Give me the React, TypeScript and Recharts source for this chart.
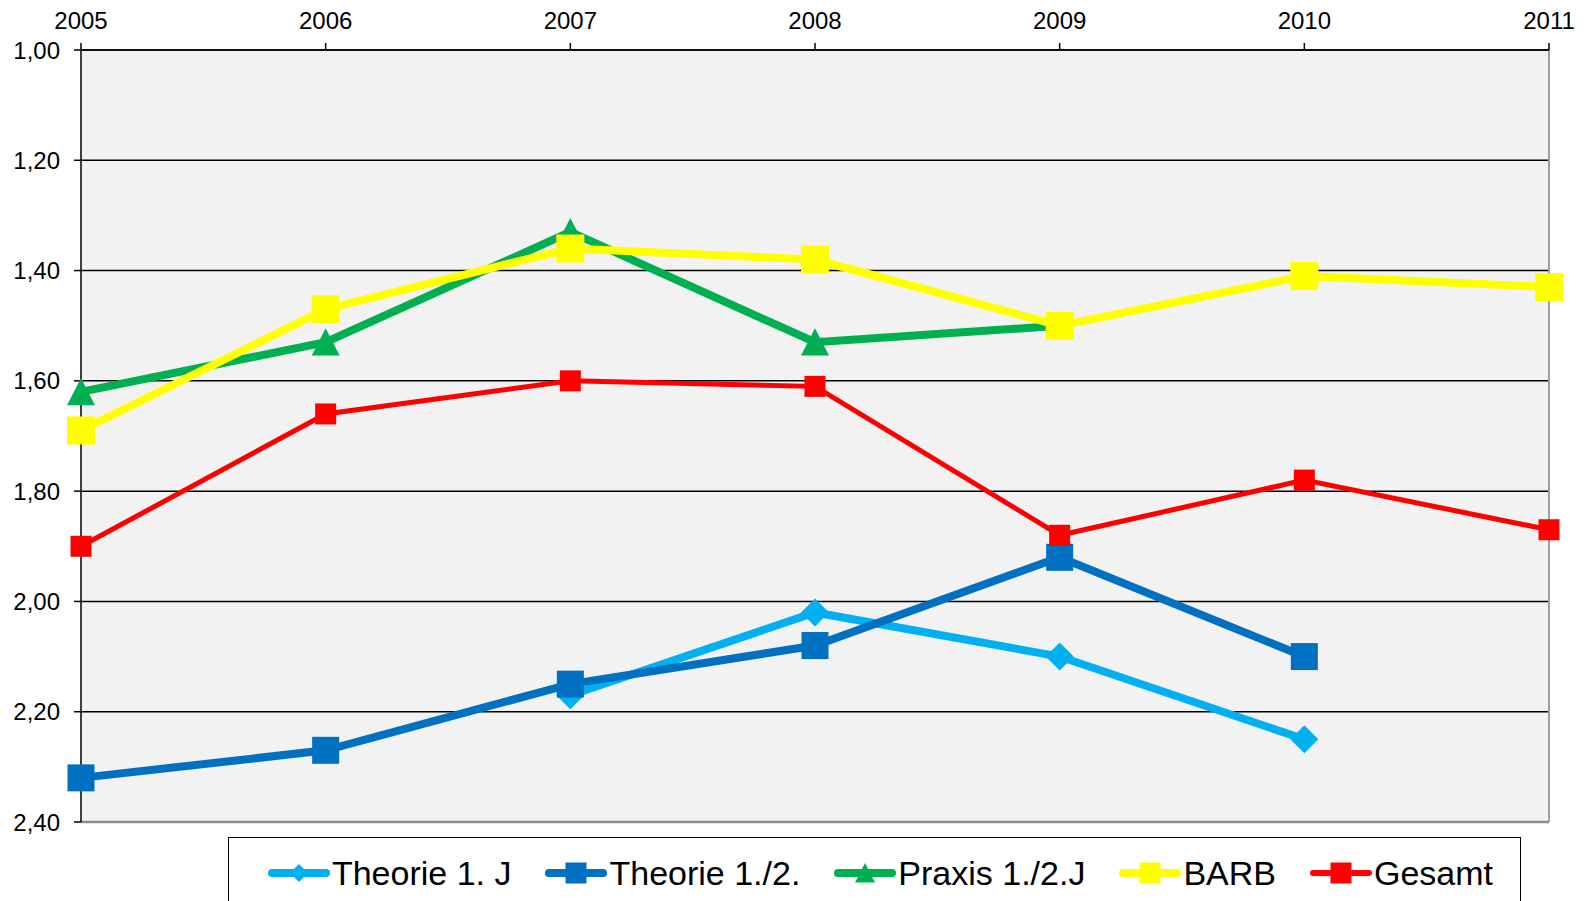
import React from 'react';
import { LineChart, Line, XAxis, YAxis, CartesianGrid, ReferenceLine } from 'recharts';

const years = ['2005', '2006', '2007', '2008', '2009', '2010', '2011'];
const theorie1J: (number | null)[] = [null, null, 2.17, 2.02, 2.10, 2.25, null];
const theorie12: (number | null)[] = [2.32, 2.27, 2.15, 2.08, 1.92, 2.10, null];
const praxis: (number | null)[] = [1.62, 1.53, 1.33, 1.53, 1.50, null, null];
const barb: (number | null)[] = [1.69, 1.47, 1.36, 1.38, 1.50, 1.41, 1.43];
const gesamt: (number | null)[] = [1.90, 1.66, 1.60, 1.61, 1.88, 1.78, 1.87];
const yTicks = [1.0, 1.2, 1.4, 1.6, 1.8, 2.0, 2.2, 2.4];

const data = years.map((y, i) => ({
  year: y,
  t1: theorie1J[i],
  t12: theorie12[i],
  px: praxis[i],
  barb: barb[i],
  ges: gesamt[i],
}));

const FONT = '"Liberation Sans", Arial, sans-serif';

type Shape = 'diamond' | 'square' | 'triangle';

const series = [
  { key: 't1', name: 'Theorie 1. J', color: '#00B0F0', width: 8, shape: 'diamond' as Shape, size: 28 },
  { key: 't12', name: 'Theorie 1./2.', color: '#0070C0', width: 8, shape: 'square' as Shape, size: 27 },
  { key: 'px', name: 'Praxis 1./2.J', color: '#00B050', width: 8, shape: 'triangle' as Shape, size: 28 },
  { key: 'barb', name: 'BARB', color: '#FFFF00', width: 8, shape: 'square' as Shape, size: 28 },
  { key: 'ges', name: 'Gesamt', color: '#FF0000', width: 5, shape: 'square' as Shape, size: 21 },
];

function marker(shape: Shape, cx: number, cy: number, s: number, color: string, key?: any) {
  const h = s / 2;
  if (shape === 'square') {
    return <rect key={key} x={cx - h} y={cy - h} width={s} height={s} fill={color} />;
  }
  if (shape === 'diamond') {
    return (
      <polygon
        key={key}
        points={`${cx},${cy - h} ${cx + h},${cy} ${cx},${cy + h} ${cx - h},${cy}`}
        fill={color}
      />
    );
  }
  return (
    <polygon
      key={key}
      points={`${cx},${cy - h} ${cx + h},${cy + h * 0.95} ${cx - h},${cy + h * 0.95}`}
      fill={color}
    />
  );
}

const makeDot = (shape: Shape, size: number, color: string) => (props: any) => {
  const { cx, cy, index, value } = props;
  if (cx == null || cy == null || value == null || isNaN(cy)) return <g key={`e-${index}`} />;
  return marker(shape, cx, cy, size, color, `d-${index}`);
};

const fmt = (v: number) => v.toFixed(2).replace('.', ',');

function LegendIcon({ s }: { s: typeof series[number] }) {
  const lw = s.key === 'ges' ? 6 : 8;
  const ms = s.shape === 'diamond' ? 18 : s.shape === 'triangle' ? 20 : 21;
  return (
    <svg width={62} height={30} style={{ display: 'block' }}>
      <line x1={lw / 2} y1={15} x2={62 - lw / 2} y2={15} stroke={s.color} strokeWidth={lw} strokeLinecap="round" />
      {marker(s.shape, 31, 15, ms, s.color)}
    </svg>
  );
}

export default function App() {
  return (
    <div
      style={{
        position: 'absolute',
        left: 0,
        top: 0,
        width: 1587,
        height: 901,
        overflow: 'hidden',
        background: '#fff',
        fontFamily: FONT,
      }}
    >
      <LineChart width={1587} height={901} data={data} margin={{ top: 0, right: 38, left: 0, bottom: 79 }}>
        <CartesianGrid vertical={false} stroke="#000" strokeWidth={1.5} fill="#F2F2F2" />
        <XAxis
          dataKey="year"
          orientation="top"
          height={50}
          interval={0}
          tickSize={7}
          tickMargin={14}
          axisLine={{ stroke: '#000', strokeWidth: 1.5 }}
          tickLine={{ stroke: '#000', strokeWidth: 1.5 }}
          tick={{ fill: '#000', fontSize: 24, fontFamily: FONT }}
        />
        <YAxis
          reversed
          domain={[1, 2.4]}
          ticks={yTicks}
          interval={0}
          width={81}
          tickSize={7}
          tickMargin={14}
          tickFormatter={fmt}
          axisLine={{ stroke: '#000', strokeWidth: 1.5 }}
          tickLine={{ stroke: '#000', strokeWidth: 1.5 }}
          tick={{ fill: '#000', fontSize: 24, fontFamily: FONT }}
        />
        <ReferenceLine x="2011" stroke="#A0A0A0" strokeWidth={2} />
        <ReferenceLine y={2.4} stroke="#8C8C8C" strokeWidth={2.5} />
        {series.map((s) => (
          <Line
            key={s.key}
            dataKey={s.key}
            name={s.name}
            type="linear"
            stroke={s.color}
            strokeWidth={s.width}
            dot={makeDot(s.shape, s.size, s.color)}
            activeDot={false}
            isAnimationActive={false}
            connectNulls={false}
          />
        ))}
      </LineChart>
      <div
        style={{
          position: 'absolute',
          left: 228,
          top: 837,
          width: 1293,
          height: 90,
          border: '1.5px solid #000',
          boxSizing: 'border-box',
          background: '#fff',
        }}
      >
        <div
          style={{
            position: 'absolute',
            left: 12,
            right: 0,
            top: 18,
            display: 'flex',
            justifyContent: 'center',
            alignItems: 'center',
          }}
        >
          {series.map((s, i) => (
            <div
              key={s.key}
              style={{
                display: 'flex',
                alignItems: 'center',
                marginLeft: i === 0 ? 0 : 34,
              }}
            >
              <LegendIcon s={s} />
              <span style={{ fontSize: 34, marginLeft: 2, lineHeight: '34px', color: '#000', whiteSpace: 'nowrap' }}>
                {s.name}
              </span>
            </div>
          ))}
        </div>
      </div>
    </div>
  );
}
